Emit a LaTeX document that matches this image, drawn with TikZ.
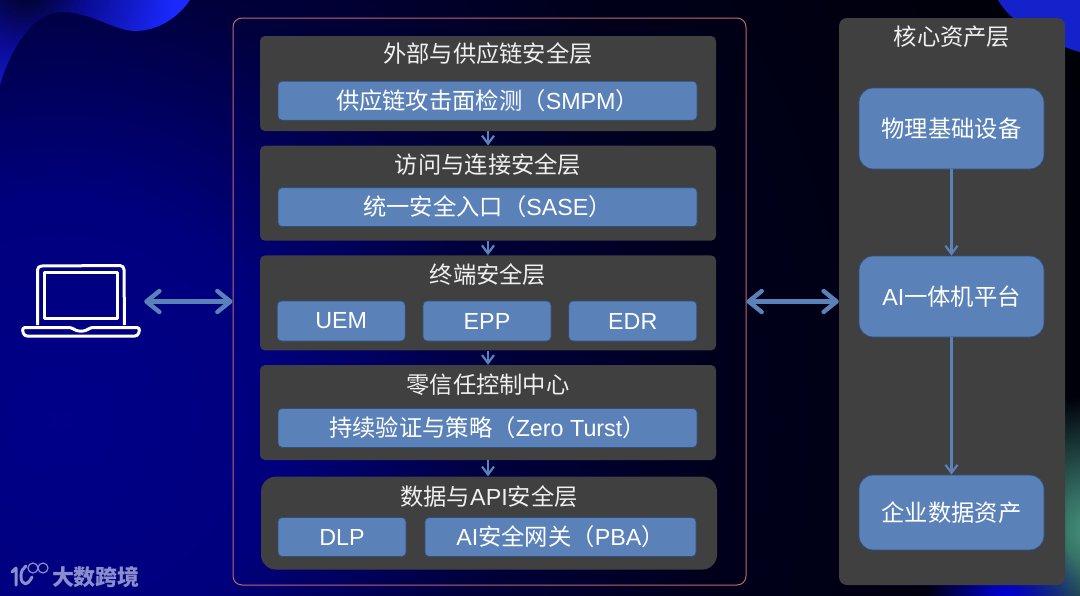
\documentclass[tikz,border=0pt]{standalone}
\usepackage{fontspec}
\setmainfont{Liberation Sans}
\newfontfamily\cjk{Noto Sans CJK SC}
\newfontfamily\latn{Liberation Sans}
\newcommand{\lat}[1]{{\latn #1}}
\usepackage{xcolor}
\usepackage{tikz}
\usetikzlibrary{arrows.meta,positioning,calc,fadings}
\definecolor{PanelGray}{HTML}{404040}
\definecolor{SecBlue}{HTML}{5B81B9}
\definecolor{SecEdge}{HTML}{2F4F7C}
\definecolor{ZoneRed}{HTML}{C2676F}
\definecolor{MarkLav}{HTML}{8A8FCB}
\definecolor{BgA}{HTML}{000088}
\definecolor{BgB}{HTML}{00007E}
\definecolor{BgC}{HTML}{00003C}
\definecolor{BgD}{HTML}{00001C}
\definecolor{BgE}{HTML}{000006}
\definecolor{GlowA}{HTML}{00001A}
\definecolor{GlowB}{HTML}{0A0A90}
\definecolor{GlowC}{HTML}{1A2AFF}
\definecolor{GlowTeal}{HTML}{4A9A85}
\pgfdeclareradialshading{bgglow}{\pgfpoint{0bp}{0bp}}{color(0bp)=(BgA); color(5bp)=(BgB); color(10bp)=(BgC); color(15bp)=(BgD); color(25bp)=(BgE); color(50bp)=(BgE)}
\pgfdeclareradialshading{blobglow}{\pgfpoint{0bp}{0bp}}{color(0bp)=(GlowA); color(7.5bp)=(GlowB); color(19bp)=(GlowC); color(50bp)=(GlowC)}
\tikzfading[name=softdisc,inner color=transparent!0,outer color=transparent!100]
\tikzset{
  layerbox/.style={fill=PanelGray,rounded corners=5pt,minimum width=456pt,minimum height=95pt,inner sep=0pt},
  secbox/.style={draw=SecEdge,line width=0.8pt,fill=SecBlue,rounded corners=4pt,minimum height=39pt,inner sep=0pt,text=white,font=\cjk\fontsize{23.3}{27}\selectfont},
  assetbox/.style={draw=SecEdge,line width=0.8pt,fill=SecBlue,rounded corners=14pt,minimum width=185pt,inner sep=0pt,text=white,font=\cjk\fontsize{23.3}{27}\selectfont},
  titletext/.style={text=white!94!black,inner sep=0pt,font=\cjk\fontsize{23.3}{27}\selectfont},
  flowarrow/.style={-{Straight Barb[length=8pt,width=12pt]},line width=2.2pt,draw=SecBlue},
  linkarrow/.style={{Straight Barb[round,length=13pt,width=21pt]}-{Straight Barb[round,length=13pt,width=21pt]},line width=4.4pt,draw=SecBlue,line cap=round},
  laptopline/.style={draw=white,line width=3pt,line join=round}
}
\begin{document}
\begin{tikzpicture}[x=1pt,y=-1pt,node distance=14.3pt and 17pt]
\useasboundingbox (0,0) rectangle (1080,595);
% background
\begin{scope}
\clip (0,0) rectangle (1080,595);
\fill[BgE] (0,0) rectangle (1080,595);
\shade[shading=bgglow] (60,420) circle [radius=1100pt];
\begin{scope}
\clip (0,85) .. controls (12,45) and (35,12) .. (62,12) .. controls (90,12) and (115,31) .. (135,31) .. controls (160,31) and (180,15) .. (190,0) -- (0,0) -- cycle;
\shade[shading=blobglow] (25,-15) circle [radius=200pt];
\end{scope}
\fill[GlowC!80!black] (998,0) .. controls (1010,22) and (1045,42) .. (1080,52) -- (1080,0) -- cycle;
\fill[GlowTeal,path fading=softdisc] (1095,530) circle [radius=135pt];
\fill[blue!85!black,path fading=softdisc] (1005,600) circle [radius=80pt];
\end{scope}
% left side
\node[minimum width=126pt,minimum height=76pt,inner sep=0pt] (laptop) at (81,301.5) {};
\draw[laptopline] (37.5,325) -- (37.5,270) arc[start angle=180,end angle=90,radius=4pt] -- (120,265.5) arc[start angle=90,end angle=0,radius=4pt] -- (124.5,325);
\draw[laptopline] (44.5,272.5) rectangle (117.5,318);
\draw[laptopline,rounded corners=3pt] (22,327.5) -- (72,327.5) -- (76,331) -- (86,331) -- (90,327.5) -- (140,327.5) -- (138,336) -- (24,336) -- cycle;
% main zone
\node[draw=ZoneRed,line width=1pt,rounded corners=9pt,minimum width=513pt,minimum height=567pt,inner sep=0pt] (zone) at (489.5,301.5) {};
\node[layerbox] (ext) at (488,83.5) {};
\node[layerbox,below=of ext] (acc) {};
\node[layerbox,below=of acc] (edp) {};
\node[layerbox,below=of edp] (ztc) {};
\node[layerbox,below=of ztc,xshift=1pt,yshift=-1.8pt,minimum height=93pt,rounded corners=15pt] (dat) {};
% layer titles
\node[titletext] at ([yshift=-18pt]ext.north) {外部与供应链安全层};
\node[titletext] at ([yshift=-19pt]acc.north) {访问与连接安全层};
\node[titletext] at ([yshift=-19pt]edp.north) {终端安全层};
\node[titletext] at ([yshift=-19.5pt]ztc.north) {零信任控制中心};
\node[titletext] at ([yshift=-20pt]dat.north) {数据与\lat{API}安全层};
% layer contents
\node[secbox,minimum width=419pt] (smpm) at ([xshift=-0.5pt,yshift=30.5pt]ext.south) {供应链攻击面检测（\lat{SMPM}）};
\node[secbox,minimum width=419pt] (sase) at ([xshift=-0.5pt,yshift=33.8pt]acc.south) {统一安全入口（\lat{SASE}）};
\node[secbox,minimum width=128pt,minimum height=40pt] (epp) at ([xshift=-1pt,yshift=29.6pt]edp.south) {\lat{EPP}};
\node[secbox,minimum width=128pt,minimum height=40pt,left=of epp] (uem) {\lat{UEM}};
\node[secbox,minimum width=128pt,minimum height=40pt,right=of epp] (edr) {\lat{EDR}};
\node[secbox,minimum width=419pt] (zts) at ([xshift=-0.5pt,yshift=32.4pt]ztc.south) {持续验证与策略（\lat{Zero Turst}）};
\node[secbox,minimum width=128pt] (dlp) at (342,537) {\lat{DLP}};
\node[secbox,minimum width=271pt] (aigw) at (560.5,537) {\lat{AI}安全网关（\lat{PBA}）};
\draw[flowarrow] (ext)--(acc);
\draw[flowarrow] (acc)--(edp);
\draw[flowarrow] (edp)--(ztc);
\draw[flowarrow] (ztc.south)--(ztc.south |- dat.north);
% core assets
\node[fill=PanelGray,rounded corners=8pt,minimum width=226pt,minimum height=567pt,inner sep=0pt] (core) at (952,301.5) {};
\node[titletext] at ([yshift=-19pt]core.north) {核心资产层};
\node[assetbox,minimum height=81pt] (phy) at (951.5,128.5) {物理基础设备};
\node[assetbox,minimum height=81pt] (aio) at (951.5,296.5) {\lat{AI}一体机平台};
\node[assetbox,minimum height=75pt] (ent) at (951.5,512.5) {企业数据资产};
\draw[flowarrow] (phy)--(aio);
\draw[flowarrow] (aio)--(ent);
% links
\draw[linkarrow] (laptop)--(zone);
\draw[linkarrow] (zone)--(core);
% watermark
\draw[MarkLav,line width=3pt,line cap=round] (16,568) -- (16,585) (12,572) -- (16,568);
\draw[MarkLav,line width=3pt,line cap=round] (32,577) .. controls (28,586) and (21,586) .. (21,576) .. controls (21,571) and (23,568) .. (26,566);
\draw[MarkLav,line width=1.2pt] (33,568) circle [radius=5pt] (43,568) circle [radius=5pt];
\node[text=MarkLav,inner sep=0pt,font=\cjk\bfseries\fontsize{22}{25}\selectfont] (mark) at (96,577) {大数跨境};
\end{tikzpicture}
\end{document}
